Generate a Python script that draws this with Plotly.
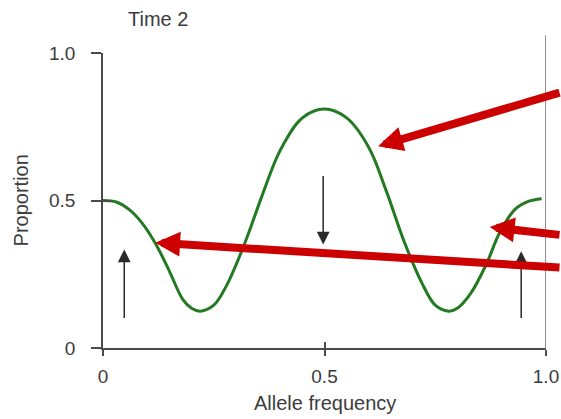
import plotly.graph_objects as go

# Proportion of populations at each allele frequency (time 2)
allele_freq = [0.00, 0.03, 0.06, 0.09, 0.12, 0.15, 0.18, 0.20, 0.22, 0.25,
               0.28, 0.32, 0.36, 0.40, 0.45, 0.50, 0.55, 0.60, 0.64, 0.68,
               0.72, 0.75, 0.78, 0.80, 0.83, 0.865, 0.895, 0.93, 0.96, 0.99]
proportion = [0.500, 0.495, 0.468, 0.420, 0.350, 0.260, 0.165, 0.135, 0.125, 0.145,
              0.215, 0.355, 0.520, 0.670, 0.780, 0.810, 0.780, 0.680, 0.530, 0.360,
              0.220, 0.145, 0.125, 0.135, 0.185, 0.283, 0.390, 0.470, 0.497, 0.506]

# Direction of change: small black arrows (tail -> head)
drift_x = [0.048, 0.497, 0.944]
drift_from = [0.097, 0.588, 0.097]
drift_to = [0.334, 0.351, 0.328]

# Red pointers: head position on the chart and tail offset in pixels
pointer_x = [0.621, 0.873, 0.118]
pointer_y = [0.684, 0.410, 0.357]
pointer_dx = [230, 110, 445]
pointer_dy = [-54, 8, 25]

tick_vals = [0, 0.5, 1.0]
x_tick_text = ["0", "0.5", "1.0"]
y_tick_text = ["0", "0.5", "1.0"]

FONT = "Liberation Sans, Arial, sans-serif"
TEXT = "#3c3c3c"
AXIS = "#4a4a4a"

fig = go.Figure()
fig.add_trace(go.Scatter(
    x=allele_freq, y=proportion, mode="lines",
    line=dict(color="#237a23", width=3, shape="spline", smoothing=1.0),
    hoverinfo="skip", showlegend=False,
))
# carrier trace for the overlaid axes that draw the inner half of each tick
fig.add_trace(go.Scatter(x=[], y=[], xaxis="x2", yaxis="y2",
                         showlegend=False, hoverinfo="skip"))

annotations = []
for x, y0, y1 in zip(drift_x, drift_from, drift_to):
    annotations.append(dict(
        x=x, y=y1, ax=x, ay=y0, xref="x", yref="y", axref="x", ayref="y",
        text="", showarrow=True, arrowhead=2, arrowsize=1.7, arrowwidth=1.5,
        arrowcolor="#2a2a2a", standoff=0, startstandoff=0,
    ))
for x, y, dx, dy in zip(pointer_x, pointer_y, pointer_dx, pointer_dy):
    annotations.append(dict(
        x=x, y=y, ax=dx, ay=dy, xref="x", yref="y", axref="pixel", ayref="pixel",
        text="", showarrow=True, arrowhead=2, arrowsize=0.62, arrowwidth=8,
        arrowcolor="#cc0000", standoff=0,
    ))

# titles placed by pixel centre, converted to paper coordinates below
titles = [
    ("Time 2", 158, 19, 0),
    ("Allele frequency", 325, 404, 0),
    ("Proportion", 20, 201, -90),
]
L, R, T, B = 102.5, 14.5, 53, 70.5
W, H = 561, 419
pw, ph = W - L - R, H - T - B
for text, px, py, angle in titles:
    annotations.append(dict(
        text=text, x=(px - L) / pw, y=(H - B - py) / ph,
        xref="paper", yref="paper", xanchor="center", yanchor="middle",
        textangle=angle, showarrow=False,
        font=dict(family=FONT, size=20, color=TEXT),
    ))

axis_common = dict(showgrid=False, zeroline=False, showline=True,
                   linecolor=AXIS, linewidth=1.5, tickcolor=AXIS, tickwidth=1.5,
                   tickvals=tick_vals, fixedrange=True, automargin=False)
label_font = dict(family=FONT, size=19, color=TEXT)

fig.update_layout(
    width=W, height=H,
    margin=dict(l=L, r=R, t=T, b=B, pad=0, autoexpand=False),
    paper_bgcolor="white", plot_bgcolor="white",
    showlegend=False,
    xaxis=dict(range=[0, 1], ticks="outside", ticklen=6, ticktext=x_tick_text,
               ticklabelstandoff=4, tickfont=label_font, **axis_common),
    yaxis=dict(range=[0, 1], ticks="outside", ticklen=10, ticktext=y_tick_text,
               ticklabelstandoff=12, tickfont=label_font, **axis_common),
    xaxis2=dict(range=[0, 1], overlaying="x", anchor="y", side="bottom",
                ticks="inside", ticklen=6, showticklabels=False, **axis_common),
    yaxis2=dict(range=[0, 1], overlaying="y", anchor="x", side="left",
                ticks="inside", ticklen=8, showticklabels=False, **axis_common),
    annotations=annotations,
    shapes=[dict(type="line", xref="x", yref="paper", x0=1, x1=1,
                 y0=-0.016, y1=1.06, line=dict(color="#6e6e6e", width=1.5))],
)

fig.write_html("out.html")
